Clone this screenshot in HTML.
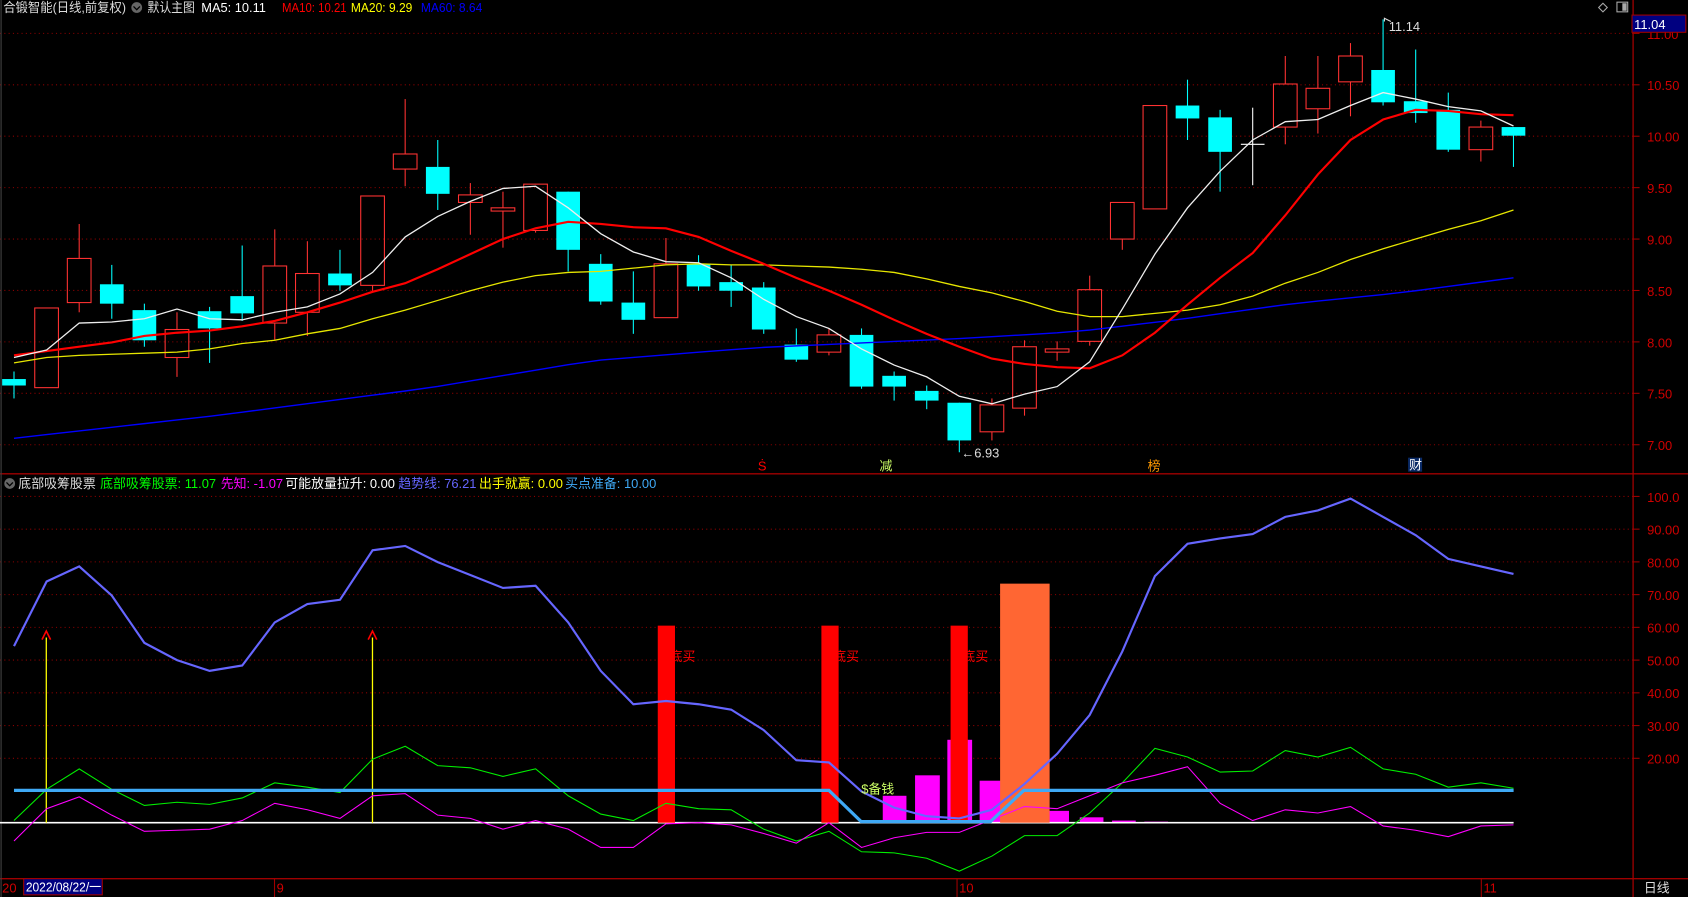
<!DOCTYPE html>
<html><head><meta charset="utf-8"><style>
html,body{margin:0;padding:0;background:#000;overflow:hidden}
svg{display:block}
text{font-family:"Liberation Sans","Noto Sans CJK SC",sans-serif;font-size:12px}
</style></head><body>
<svg id="s" width="1688" height="897" viewBox="0 0 1568 833" preserveAspectRatio="none" xmlns="http://www.w3.org/2000/svg">
<rect width="1568" height="833" fill="#000"/>
<g id="grid" stroke="#8b0000" stroke-dasharray="1,3" stroke-width="1"></g>
<line x1="1517" y1="0" x2="1517" y2="833" stroke="#a00000" stroke-width="1.2"/>
<line x1="0" y1="440" x2="1568" y2="440" stroke="#a00000" stroke-width="1.2"/>
<line x1="0" y1="816" x2="1568" y2="816" stroke="#a00000" stroke-width="1.2"/>
<line x1="1" y1="0" x2="1" y2="833" stroke="#444" stroke-width="1"/>
<g id="axis" fill="#d00000" text-anchor="start"></g>
<g id="main"></g>
<g id="low"></g>
<text x="3" y="11" fill="#ddd" textLength="114" lengthAdjust="spacingAndGlyphs">合锻智能(日线,前复权)</text>
<circle cx="127" cy="7" r="5" fill="#666"/><path d="M124,6 l3,3 l3,-3" stroke="#000" fill="none" stroke-width="1.2"/>
<text x="137" y="11" fill="#ddd" textLength="44" lengthAdjust="spacingAndGlyphs">默认主图</text>
<text x="187" y="11" fill="#fff" textLength="60" lengthAdjust="spacingAndGlyphs">MA5: 10.11</text>
<text x="262" y="11" fill="#f00" textLength="60" lengthAdjust="spacingAndGlyphs">MA10: 10.21</text>
<text x="326" y="11" fill="#ff0" textLength="57" lengthAdjust="spacingAndGlyphs">MA20: 9.29</text>
<text x="391" y="11" fill="#0000ff" textLength="57" lengthAdjust="spacingAndGlyphs">MA60: 8.64</text>
<path d="M1485,7 l4,-4 l4,4 l-4,4z" stroke="#aaa" fill="none"/>
<rect x="1502" y="2" width="10" height="9" stroke="#aaa" fill="none"/><rect x="1507" y="3" width="4" height="7" fill="#aaa"/>
<rect x="1516" y="14" width="50" height="16" fill="#000080" stroke="#a00000"/>
<text x="1518" y="27" fill="#fff" font-size="13">11.04</text>
<text x="1290" y="29" fill="#ddd">11.14</text>
<path d="M1286,20 l0,-3 l6,3" stroke="#ddd" fill="none"/>
<text x="893" y="425" fill="#ddd">←6.93</text>
<text x="704" y="437" fill="#f00" font-size="11">Ṡ</text>
<text x="817" y="437" fill="#ccff66" font-size="11">减</text>
<text x="1066" y="437" fill="#ff9900" font-size="11">榜</text>
<rect x="1308" y="425" width="13" height="13" fill="#0a2a66"/><text x="1309" y="436" fill="#fff" font-size="11">财</text>
<circle cx="9" cy="449" r="5" fill="#666"/><path d="M6,448 l3,3 l3,-3" stroke="#000" fill="none" stroke-width="1.2"/>
<text x="17" y="453" fill="#ddd">底部吸筹股票</text>
<text x="93" y="453" fill="#00ff00">底部吸筹股票: 11.07</text>
<text x="205" y="453" fill="#ff00ff">先知: -1.07</text>
<text x="265" y="453" fill="#fff">可能放量拉升: 0.00</text>
<text x="370" y="453" fill="#6666ff">趋势线: 76.21</text>
<text x="445" y="453" fill="#ffff00">出手就赢: 0.00</text>
<text x="525" y="453" fill="#3fa9f5">买点准备: 10.00</text>
<text x="2" y="829" fill="#d00000">20</text>
<rect x="22" y="816" width="73" height="15" fill="#000080" stroke="#a00000"/>
<text x="24" y="828" fill="#fff" textLength="70" lengthAdjust="spacingAndGlyphs">2022/08/22/一</text>
<line x1="255" y1="816" x2="255" y2="833" stroke="#a00000"/><text x="257" y="829" fill="#d00000">9</text>
<line x1="889" y1="816" x2="889" y2="833" stroke="#a00000"/><text x="891" y="829" fill="#d00000">10</text>
<line x1="1376" y1="816" x2="1376" y2="833" stroke="#a00000"/><text x="1378" y="829" fill="#d00000">11</text>
<text x="1527" y="829" fill="#ddd">日线</text>
</svg>
<script>
var NS="http://www.w3.org/2000/svg";
function el(p,t,a){var e=document.createElementNS(NS,t);for(var k in a)e.setAttribute(k,a[k]);p.appendChild(e);return e;}
var grid=document.getElementById('grid'),axis=document.getElementById('axis'),main=document.getElementById('main'),low=document.getElementById('low');
function py(p){return 413-(p-7)*95.5;}
[11,10.5,10,9.5,9,8.5,8,7.5,7].forEach(function(p){var y=py(p);el(grid,'line',{x1:0,y1:y,x2:1517,y2:y});el(axis,'line',{x1:1517,y1:y,x2:1523,y2:y,stroke:'#a00000'});var t=el(axis,'text',{x:1530,y:y+5,'font-size':13});t.textContent=p.toFixed(2);});
function ly(v){return 765-3.04*v;}
[100,90,80,70,60,50,40,30,20].forEach(function(v){var y=ly(v);el(grid,'line',{x1:0,y1:y,x2:1517,y2:y});el(axis,'line',{x1:1517,y1:y,x2:1523,y2:y,stroke:'#a00000'});var t=el(axis,'text',{x:1530,y:y+5,'font-size':13});t.textContent=v==100?'100.0':v.toFixed(2);});
var xs=[];for(var i=0;i<47;i++)xs.push(13+i*30.28);
function line(ys,col,w,par){var d='';ys.forEach(function(y,i){d+=(i?'L':'M')+xs[i].toFixed(1)+','+y;});el(par,'path',{d:d,stroke:col,fill:'none','stroke-width':w});}
var C=[[352,358,345,370,'d'],[286,360,286,360,'u'],[240,281,208,290,'u'],[264,282,246,296,'d'],[288,316,282,322,'d'],[306,332,290,350,'u'],[289,305,285,337,'d'],[275,291,228,298,'d'],[247,300,213,316,'u'],[254,290,224,312,'u'],[254,265,232,270,'d'],[182,265,182,270,'u'],[143,157,92,173,'u'],[155,180,130,195,'d'],[181,188,170,218,'u'],[193,196,178,230,'u'],[171,214,171,216,'u'],[178,232,178,252,'d'],[245,280,236,283,'d'],[281,297,252,310,'d'],[245,295,221,295,'u'],[245,266,237,270,'d'],[262,270,246,285,'d'],[267,306,262,310,'d'],[320,334,305,336,'d'],[311,327,305,330,'u'],[311,359,305,361,'d'],[349,359,345,372,'d'],[363,372,358,380,'d'],[374,409,374,420,'d'],[376,401,370,409,'u'],[322,379,316,386,'u'],[324,327,317,335,'u'],[269,317,256,321,'u'],[188,222,188,232,'u'],[98,194,98,194,'u'],[98,110,74,130,'d'],[109,141,102,178,'d'],[133,136,100,172,'w'],[78,118,52,134,'u'],[82,101,52,124,'u'],[52,76,40,108,'u'],[65,95,18,98,'d'],[94,105,46,114,'d'],[102,139,86,141,'d'],[118,139,112,150,'u'],[118,126,118,155,'d']];
C.forEach(function(c,i){var x=xs[i],col=c[4]=='u'?'#ff3232':c[4]=='d'?'#00ffff':'#fff';
 if(c[4]=='u'){el(main,'line',{x1:x,y1:c[2],x2:x,y2:c[0],stroke:col});el(main,'line',{x1:x,y1:c[1],x2:x,y2:c[3],stroke:col});el(main,'rect',{x:x-11,y:c[0],width:22,height:Math.max(1,c[1]-c[0]),fill:'none',stroke:col});}
 else if(c[4]=='w'){el(main,'line',{x1:x,y1:c[2],x2:x,y2:c[3],stroke:col});el(main,'line',{x1:x-11,y1:c[0]+1,x2:x+11,y2:c[0]+1,stroke:col});}
 else{el(main,'line',{x1:x,y1:c[2],x2:x,y2:c[3],stroke:col});el(main,'rect',{x:x-11,y:c[0],width:22,height:Math.max(1,c[1]-c[0]),fill:col});}
});
var ma5=[332,325,300,299,296,287,296,297,290,285,273,253,220,201,187,175,173,193,217,234,243,244,258,278,294,305,324,339,350,368,375,366,359,336,287,236,193,159,130,113,111,98,86,92,99,103,117];
var ma10=[330,326,322,318,312,309,307,303,298,290,281,271,263,250,236,222,212,206,208,211,212,220,233,245,258,270,283,297,310,322,333,338,341,342,330,309,283,258,235,200,162,130,111,102,103,106,107];
var ma20=[337,332,330,329,328,327,324,319,316,310,305,296,288,279,270,262,256,253,252,249,246,245,246,246,247,248,250,253,259,266,272,280,289,294,294,291,288,283,275,263,253,241,231,222,213,205,195];
var ma60=xs.map(function(x){var P=[[13,407],[200,386],[400,360],[550,335],[700,323],[900,314],[1000,308],[1100,296],[1200,282],[1300,272],[1406,258]];for(var k=1;k<P.length;k++)if(x<=P[k][0]+0.5){var a=P[k-1],b=P[k];return (a[1]+(b[1]-a[1])*(x-a[0])/(b[0]-a[0])).toFixed(1);}return 258;});
line(ma60,'#0000ff',1.3,main);line(ma20,'#e6e600',1.2,main);line(ma10,'#ff0000',2,main);line(ma5,'#eee',1.2,main);
[[820,842,739],[850,873,720],[880,903,687],[910,930,725],[973,993,753],[1003,1025,759],[1033,1055,762],[1063,1085,763]].forEach(function(b){el(low,'rect',{x:b[0],y:b[2],width:b[1]-b[0],height:764-b[2],fill:'#ff00ff'});});
el(low,'line',{x1:0,y1:764,x2:1406,y2:764,stroke:'#fff','stroke-width':1.5});
[611,763,883].forEach(function(x){el(low,'rect',{x:x,y:581,width:16,height:183,fill:'#ff0000'});var t=el(low,'text',{x:x+11,y:614,fill:'#ff0000'});t.textContent='底买';});
el(low,'rect',{x:929,y:542,width:46,height:222,fill:'#ff6633'});
[43,346].forEach(function(x){el(low,'line',{x1:x,y1:592,x2:x,y2:764,stroke:'#ffff00','stroke-width':1.2});el(low,'path',{d:'M'+(x-4)+',594 L'+x+',586 L'+(x+4)+',594',stroke:'#ff0000',fill:'none','stroke-width':1.5});});
var trend=[600,540,526,553,597,613,623,618,578,561,557,511,507,522,534,546,544,578,623,654,651,654,659,678,706,708,735,750,758,760,752,728,700,664,605,535,505,500,496,480,474,463,480,497,519,526,533];
var green=[762,733,714,733,748,745,747,741,727,731,736,705,693,711,713,721,714,739,756,762,746,751,752,770,781,772,791,792,797,809,795,776,776,755,727,695,703,717,716,697,703,694,714,719,731,727,732];
var mag=[781,751,740,757,772,771,770,762,746,752,760,739,737,757,760,770,762,770,787,787,765,764,766,774,783,764,787,778,773,773,761,749,751,739,727,720,712,746,762,752,755,749,767,771,777,767,766];
line(green,'#00ee00',1,low);line(mag,'#ff00ff',1,low);
el(low,'path',{d:'M13,734 L770,734 L800,763 L920,763 L951,734 L1406,734',stroke:'#3fa9f5',fill:'none','stroke-width':3});
line(trend,'#6666ff',2,low);
var t=el(low,'text',{x:800,y:737,fill:'#ccff66'});t.textContent='$备钱';
</script>
</body></html>
